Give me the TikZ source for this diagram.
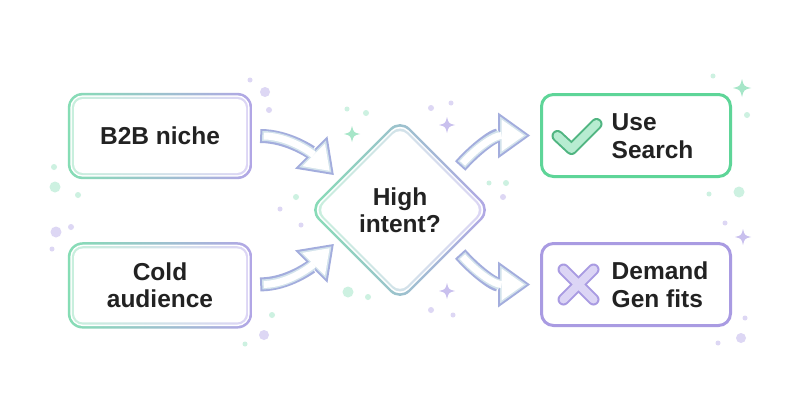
\documentclass[tikz,border=0pt]{standalone}
\usepackage{fontspec}
\setmainfont{Liberation Sans}
\usetikzlibrary{arrows.meta,positioning,calc,shapes.geometric,backgrounds}

\definecolor{mint}{HTML}{86DDB5}
\definecolor{lav}{HTML}{B2A6E6}
\definecolor{mintl}{HTML}{C8EFDD}
\definecolor{lavl}{HTML}{DCD5F5}
\definecolor{grn}{HTML}{5ED598}
\definecolor{pur}{HTML}{A99BE2}
\definecolor{arr}{HTML}{A3ADDD}
\definecolor{arrl}{HTML}{D3E3EC}
\definecolor{ink}{HTML}{222222}
\definecolor{dotg}{HTML}{CDF1E1}
\definecolor{dotp}{HTML}{DDD7F4}
\definecolor{sprkg}{HTML}{A6E6C8}
\definecolor{sprkp}{HTML}{C9C0EE}

\begin{document}
\begin{tikzpicture}[x=1pt, y=-1pt,
  lbl/.style={font=\bfseries\fontsize{24.5}{27.5}\selectfont, text=ink, align=center, inner sep=0pt},
  inbox/.style={lbl, fill=white, rounded corners=9pt, minimum width=172pt, minimum height=74pt},
  ask/.style={lbl, diamond, fill=white, rounded corners=10pt, minimum width=166pt, minimum height=166pt},
  outbox/.style={draw, line width=3pt, fill=white, rounded corners=12pt, minimum width=189pt, minimum height=82pt},
  blkout/.style={draw=arr, line width=14pt, -{Triangle[length=32pt, width=46pt, line width=0pt]}},
  blkmid/.style={draw=arrl, line width=10pt, shorten <=2pt, shorten >=3.4pt, -{Triangle[length=26.6pt, width=38pt, line width=0pt]}},
  blkin/.style={draw=white, line width=7pt, shorten <=3.5pt, shorten >=6pt, -{Triangle[length=22.5pt, width=32pt, line width=0pt]}},
  icoout/.style={line width=12pt, line cap=round, line join=round},
  icoin/.style={line width=8pt, line cap=round, line join=round},
  spark/.pic={\fill (0,-1) .. controls (0.2,-0.2) .. (1,0) .. controls (0.2,0.2) .. (0,1)
    .. controls (-0.2,0.2) .. (-1,0) .. controls (-0.2,-0.2) .. cycle;}]
  \useasboundingbox (0,0) rectangle (800,420);

  % boxes
  \node[inbox] (b2b) at (160,136) {B2B niche};
  \node[inbox, below=75pt of b2b] (cold) {Cold\\audience};
  \node[ask] (hi) at (400,210) {High\\intent?};
  \node[outbox, draw=grn] (srch) at (636,135.5) {};
  \node[outbox, draw=pur, below=64pt of srch] (dgen) {};

  % icons and outcome texts
  \coordinate (chk) at ($(srch.west)+(36.5,0.5)$);
  \coordinate (crs) at ($(dgen.west)+(38.5,0)$);
  \draw[icoout, draw=grn!85!black] ($(chk)+(-19,0)$) -- ($(chk)+(-5,13)$) -- ($(chk)+(20,-12)$);
  \draw[icoin, draw=grn!45] ($(chk)+(-19,0)$) -- ($(chk)+(-5,13)$) -- ($(chk)+(20,-12)$);
  \draw[icoout, draw=pur] ($(crs)+(-15,-15)$) -- ($(crs)+(15,15)$) ($(crs)+(15,-15)$) -- ($(crs)+(-15,15)$);
  \draw[icoin, draw=lavl] ($(crs)+(-15,-15)$) -- ($(crs)+(15,15)$) ($(crs)+(15,-15)$) -- ($(crs)+(-15,15)$);
  \node[lbl, align=left, right=35pt of chk] (usetxt) {Use\\Search};
  \node[lbl, align=left, right=33pt of crs] (gentxt) {Demand\\Gen fits};

  % block arrows
  \coordinate (a1s) at ($(b2b.east)+(14,0)$);
  \coordinate (a1t) at ($(hi.west)+(17,-35)$);
  \coordinate (a2s) at ($(cold.east)+(14,-1)$);
  \coordinate (a2t) at ($(hi.west)+(17,34)$);
  \coordinate (a3s) at ($(hi.east)+(-23,-44)$);
  \coordinate (a3t) at ($(srch.west)+(-10,0)$);
  \coordinate (a4s) at ($(hi.east)+(-23,44)$);
  \coordinate (a4t) at ($(dgen.west)+(-10,0)$);
  \foreach \s/\t/\ca/\cb in {a1s/a1t/{28,0}/{-22,-22}, a2s/a2t/{28,0}/{-22,22},
                             a3s/a3t/{16,-18}/{-36,0}, a4s/a4t/{16,18}/{-36,0}}{
    \draw[blkout] (\s) .. controls +(\ca) and +(\cb) .. (\t);
    \draw[blkmid] (\s) .. controls +(\ca) and +(\cb) .. (\t);
    \draw[blkin] (\s) .. controls +(\ca) and +(\cb) .. (\t);
  }

  \begin{scope}[on background layer]
    \fill[white] (0,0) rectangle (800,420);
    % scattered dots and sparkles
    \foreach \x/\y/\r in {250/80/2.5, 265/92/5, 269/110/3, 280/209/2.5, 301/225/2.5, 56/232/5.5,
                          71/227/3, 52/249/2.5, 264/335/5, 431/108/3, 451/103/2.5, 503/197/3,
                          431/310/3, 453/315/2.5, 725/223/2.5, 745/318/2.5, 741/338/5, 718/343/2.5}
      \fill[dotp] (\x,\y) circle (\r);
    \foreach \x/\y/\r in {347/109/2.5, 366/113/3, 54/167/3, 55/187/5.5, 78/195/3, 296/197/3,
                          348/292/5.5, 368/297/3, 272/315/3, 245/344/2.5, 489/183/2.5, 506/183/3,
                          713/76/2.5, 747/115/3, 739/192/5.5, 709/194/2.5}
      \fill[dotg] (\x,\y) circle (\r);
    \foreach \x/\y/\sz/\c in {352/134/8/sprkg, 447/125/8/sprkp, 447/291/8/sprkp,
                              742/88/9/sprkg, 743/237/8/sprkp}
      \pic[scale=\sz, \c] at (\x,\y) {spark};
    % gradient frames
    \foreach \n in {b2b,cold}{
      \shade[left color=mint, right color=lav, rounded corners=15pt]
        ($(\n.north west)+(-6,-6)$) rectangle ($(\n.south east)+(6,6)$);
      \fill[white, rounded corners=12.5pt]
        ($(\n.north west)+(-3.5,-3.5)$) rectangle ($(\n.south east)+(3.5,3.5)$);
      \shade[left color=mintl, right color=lavl, rounded corners=11pt]
        ($(\n.north west)+(-2,-2)$) rectangle ($(\n.south east)+(2,2)$);
    }
    \shade[left color=mint, right color=lav, rounded corners=14pt]
      ($(hi.north)+(0,-8.5)$) -- ($(hi.east)+(8.5,0)$) -- ($(hi.south)+(0,8.5)$) -- ($(hi.west)+(-8.5,0)$) -- cycle;
    \fill[white, rounded corners=12pt]
      ($(hi.north)+(0,-5)$) -- ($(hi.east)+(5,0)$) -- ($(hi.south)+(0,5)$) -- ($(hi.west)+(-5,0)$) -- cycle;
    \shade[left color=mintl, right color=lavl, rounded corners=11pt]
      ($(hi.north)+(0,-2.8)$) -- ($(hi.east)+(2.8,0)$) -- ($(hi.south)+(0,2.8)$) -- ($(hi.west)+(-2.8,0)$) -- cycle;
  \end{scope}
\end{tikzpicture}
\end{document}
